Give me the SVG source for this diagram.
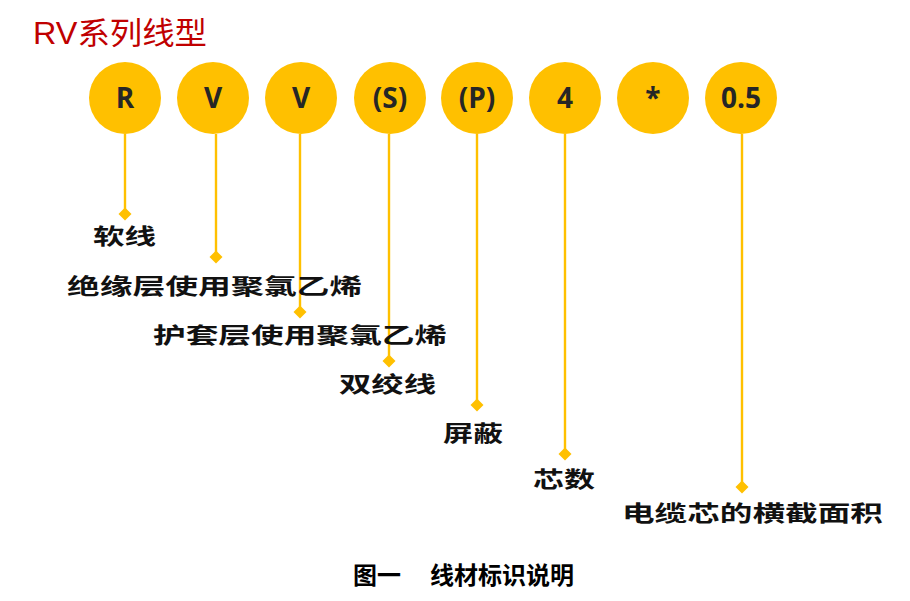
<svg xmlns="http://www.w3.org/2000/svg" width="910" height="601" viewBox="0 0 910 601">
<style>
.c{fill:#FFC000}
.ct{font-family:"Open Sans","Liberation Sans",sans-serif;font-weight:700;font-size:28px;fill:#262626;text-anchor:middle}
.ln{stroke:#FFC000;stroke-width:2.4;fill:none}
.dm{fill:#FFC000}
.lb{font-family:"Noto Sans CJK SC","Noto Sans CJK JP",sans-serif;font-weight:700;font-size:22px;fill:#111}
</style>
<defs>
<path id="d" d="M0,-6.5 L6.5,0 L0,6.5 L-6.5,0 Z"/>
</defs>
<rect width="910" height="601" fill="#fff"/>
<text x="33" y="44" font-family="Liberation Sans,'Noto Sans CJK SC',sans-serif" font-size="31" fill="#C00000" textLength="174" lengthAdjust="spacingAndGlyphs">RV系列线型</text>

<g id="connectors">
<line class="ln" x1="125" y1="134" x2="125" y2="214"/><use href="#d" class="dm" x="125" y="214"/>
<line class="ln" x1="216" y1="134" x2="216" y2="257"/><use href="#d" class="dm" x="216" y="257"/>
<line class="ln" x1="300" y1="134" x2="300" y2="312"/><use href="#d" class="dm" x="300" y="312"/>
<line class="ln" x1="389" y1="134" x2="389" y2="361"/><use href="#d" class="dm" x="389" y="361"/>
<line class="ln" x1="477" y1="134" x2="477" y2="405"/><use href="#d" class="dm" x="477" y="405"/>
<line class="ln" x1="565" y1="134" x2="565" y2="454"/><use href="#d" class="dm" x="565" y="454"/>
<line class="ln" x1="742" y1="134" x2="742" y2="487"/><use href="#d" class="dm" x="742" y="487"/>
</g>

<g id="n-R"><circle class="c" cx="125" cy="98" r="36"/><text class="ct" x="125" y="108">R</text></g>
<g id="n-V1"><circle class="c" cx="213" cy="98" r="36"/><text class="ct" x="213" y="108">V</text></g>
<g id="n-V2"><circle class="c" cx="301" cy="98" r="36"/><text class="ct" x="301" y="108">V</text></g>
<g id="n-S"><circle class="c" cx="390" cy="98" r="36"/><text class="ct" x="390" y="108">(S)</text></g>
<g id="n-P"><circle class="c" cx="477" cy="98" r="36"/><text class="ct" x="477" y="108">(P)</text></g>
<g id="n-4"><circle class="c" cx="565" cy="98" r="36"/><text class="ct" x="565" y="108">4</text></g>
<g id="n-star"><circle class="c" cx="653" cy="98" r="36"/><text class="ct" x="653" y="108">*</text></g>
<g id="n-05"><circle class="c" cx="741" cy="98" r="36"/><text class="ct" x="741" y="108" fill="#000">0.5</text></g>

<g id="labels">
<text class="lb" x="93" y="244" textLength="63" lengthAdjust="spacingAndGlyphs">软线</text>
<text class="lb" x="67" y="294" textLength="295" lengthAdjust="spacingAndGlyphs">绝缘层使用聚氯乙烯</text>
<text class="lb" x="153" y="343" textLength="294" lengthAdjust="spacingAndGlyphs">护套层使用聚氯乙烯</text>
<text class="lb" x="339" y="392" textLength="97" lengthAdjust="spacingAndGlyphs">双绞线</text>
<text class="lb" x="443" y="441" textLength="60" lengthAdjust="spacingAndGlyphs">屏蔽</text>
<text class="lb" x="533" y="487" textLength="62" lengthAdjust="spacingAndGlyphs">芯数</text>
<text class="lb" x="622" y="521" textLength="261" lengthAdjust="spacingAndGlyphs">电缆芯的横截面积</text>
</g>

<text x="353" y="584" font-family="'Noto Sans CJK SC',sans-serif" font-weight="700" font-size="24" fill="#000">图一<tspan x="430">线材标识说明</tspan></text>
</svg>
